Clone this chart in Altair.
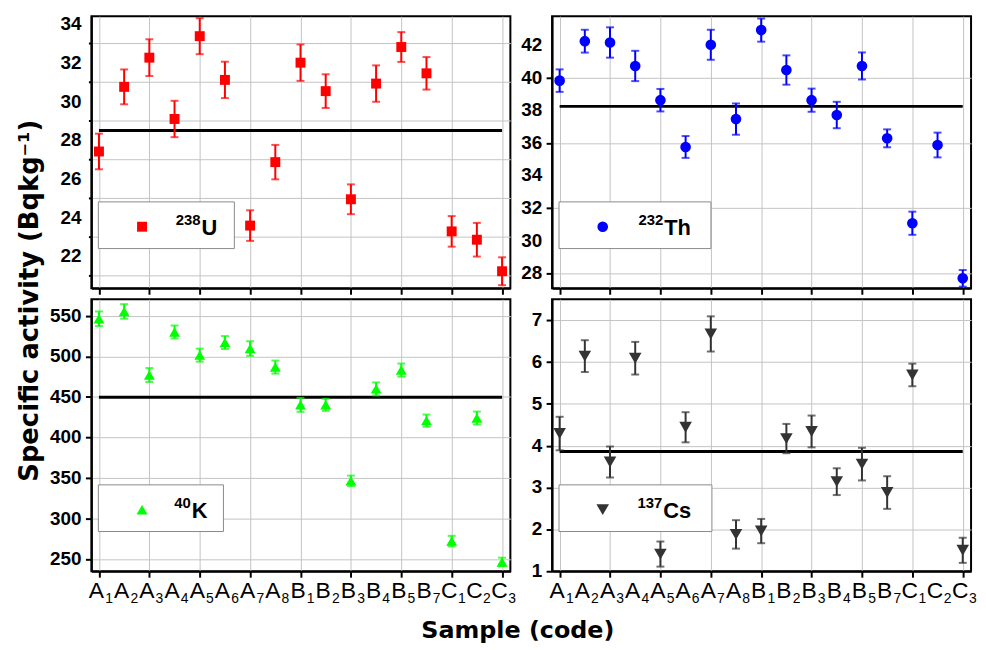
import altair as alt
import pandas as pd

# ---------------- data ----------------
samples = ["A1", "A2", "A3", "A4", "A5", "A6", "A7", "A8",
           "B1", "B2", "B3", "B4", "B5", "B7", "C1", "C2", "C3"]
sample_letter = ["A", "A", "A", "A", "A", "A", "A", "A",
                 "B", "B", "B", "B", "B", "B", "C", "C", "C"]
sample_sub = ["1", "2", "3", "4", "5", "6", "7", "8",
              "1", "2", "3", "4", "5", "7", "1", "2", "3"]

u238 = [27.42, 30.76, 32.27, 29.10, 33.38, 31.12, 23.59, 26.87, 32.01,
        30.54, 24.95, 30.93, 32.82, 31.46, 23.29, 22.86, 21.23]
u238_err = [0.92, 0.90, 0.95, 0.94, 0.93, 0.94, 0.79, 0.89, 0.94,
            0.87, 0.77, 0.94, 0.77, 0.84, 0.79, 0.87, 0.72]

th232 = [39.82, 42.24, 42.16, 40.72, 38.62, 35.75, 42.02, 37.46, 42.92,
         40.47, 38.62, 37.71, 40.72, 36.28, 31.07, 35.87, 27.69]
th232_err = [0.69, 0.70, 0.93, 0.93, 0.69, 0.67, 0.92, 0.96, 0.71,
             0.90, 0.71, 0.81, 0.83, 0.55, 0.71, 0.76, 0.51]

k40 = [546.3, 555.3, 477.0, 530.0, 501.5, 517.0, 509.6, 486.8, 440.3,
       440.3, 346.6, 459.9, 483.1, 420.8, 272.4, 424.0, 246.7]
k40_err = [9.0, 9.0, 8.6, 8.0, 8.0, 8.0, 9.0, 8.0, 8.6,
           7.4, 6.5, 8.0, 8.0, 7.5, 6.5, 8.0, 5.3]

cs137 = [4.29, 6.14, 3.61, 6.09, 1.41, 4.44, 6.67, 1.88, 1.96,
         4.17, 4.34, 3.14, 3.56, 2.88, 5.69, None, 1.50]
cs137_err = [0.40, 0.38, 0.37, 0.39, 0.30, 0.36, 0.42, 0.34, 0.29,
             0.35, 0.38, 0.32, 0.39, 0.39, 0.27, None, 0.30]

mean_values = [28.51, 38.24, 449.7, 3.86]
iso_mass = ["238", "232", "40", "137"]
iso_element = ["U", "Th", "K", "Cs"]

# y tick labels of each panel
u_tick_labels = [22, 24, 26, 28, 30, 32, 34]
th_tick_labels = [28, 30, 32, 34, 36, 38, 40, 42]
k_tick_labels = [250, 300, 350, 400, 450, 500, 550]
cs_tick_labels = [1, 2, 3, 4, 5, 6, 7]

FONT = "Liberation Sans"
TFONT = "DejaVu Sans"
W, H = 422, 274


def frange(a, b, s):
    out, v = [], a
    while v <= b + 1e-9:
        out.append(round(v, 4))
        v += s
    return out


def panel(values, errs, mean, mass, elem, color, shape, msize,
          ydom, yticks, ylabels, bottom, legend_w, sup_x, show_ytitle=False,
          show_xtitle=False):
    rows = []
    for i, (v, e) in enumerate(zip(values, errs)):
        if v is None:
            continue
        rows.append({"idx": i, "sample": samples[i], "value": v,
                     "lo": v - e, "hi": v + e})
    df = pd.DataFrame(rows)
    mdf = pd.DataFrame({"x0": [0], "x1": [len(samples) - 1], "mean": [mean]})
    ldf = pd.DataFrame({"sup": [mass], "el": [elem]})
    labdf = pd.DataFrame({"idx": list(range(len(samples))),
                          "letter": sample_letter, "sub": sample_sub})
    ylabdf = pd.DataFrame({"v": ylabels, "t": [str(t) for t in ylabels]})

    xvals = frange(0.0, len(samples) - 1, 0.5)
    xaxis_kw = dict(
        values=xvals,
        grid=True,
        gridOpacity={"condition": {"test": "datum.value % 1 !== 0", "value": 0}, "value": 1},
        tickSize={"condition": {"test": "datum.value % 1 !== 0", "value": 3}, "value": 6},
        domain=True,
        labels=False,
    )
    if show_xtitle:
        xaxis_kw.update(title="Sample (code)", titleX=429, titleY=67,
                        titleAlign="center", titleBaseline="alphabetic",
                        titleFont=TFONT, titleFontWeight="bold", titleFontSize=24)
    else:
        xaxis_kw.update(title=None)

    major_test = "indexof(" + str(list(ylabels)) + ", datum.value) < 0"
    yaxis_kw = dict(
        values=yticks,
        grid=True,
        labels=False,
        tickSize={"condition": {"test": major_test, "value": 3}, "value": 6},
    )
    if show_ytitle:
        yaxis_kw.update(title="Specific activity (Bqkg⁻¹)", titleX=-62, titleY=286,
                        titleAlign="center", titleBaseline="middle", titleAngle=270,
                        titleFont=TFONT, titleFontWeight="bold", titleFontSize=26)
    else:
        yaxis_kw.update(title=None)

    xs = alt.Scale(domain=[-0.3, len(samples) - 1 + 0.33], nice=False, zero=False)
    ys = alt.Scale(domain=list(ydom), nice=False, zero=False)

    mean_line = alt.Chart(mdf).mark_rule(color="black", strokeWidth=3).encode(
        x=alt.X("x0:Q", scale=xs, axis=alt.Axis(**xaxis_kw)),
        x2="x1:Q",
        y=alt.Y("mean:Q", scale=ys, axis=alt.Axis(**yaxis_kw)),
    )
    bars = alt.Chart(df).mark_rule(color=color, strokeWidth=2).encode(
        x="idx:Q", y="lo:Q", y2="hi:Q")
    cap_lo = alt.Chart(df).mark_tick(color=color, orient="horizontal", size=8,
                                     thickness=2).encode(x="idx:Q", y="lo:Q")
    cap_hi = alt.Chart(df).mark_tick(color=color, orient="horizontal", size=8,
                                     thickness=2).encode(x="idx:Q", y="hi:Q")
    pts = alt.Chart(df).mark_point(shape=shape, filled=True, opacity=1,
                                   color=color, size=msize).encode(
        x="idx:Q", y="value:Q")

    box = alt.Chart(ldf).mark_rect(fill="white", stroke="#8a8a8a", strokeWidth=1).encode(
        x=alt.value(7), x2=alt.value(legend_w), y=alt.value(187), y2=alt.value(234))
    sym = alt.Chart(ldf).mark_point(shape=shape, filled=True, opacity=1,
                                    color=color, size=msize).encode(
        x=alt.value(51), y=alt.value(212))
    sup = alt.Chart(ldf).mark_text(align="right", baseline="alphabetic", font=FONT,
                                   fontSize=15, fontWeight="bold", color="black").encode(
        x=alt.value(sup_x), y=alt.value(210), text="sup:N")
    el = alt.Chart(ldf).mark_text(align="left", baseline="alphabetic", font=FONT,
                                  fontSize=22, fontWeight="bold", color="black").encode(
        x=alt.value(sup_x + 1), y=alt.value(220), text="el:N")

    ylab = alt.Chart(ylabdf).mark_text(align="right", baseline="middle", font=FONT,
                                       fontSize=19, fontWeight="bold", color="black").encode(
        x=alt.value(-10), y="v:Q", text="t:N")

    layers = [mean_line, bars, cap_lo, cap_hi, pts, box, sym, sup, el, ylab]
    if bottom:
        let = alt.Chart(labdf).mark_text(align="center", baseline="alphabetic", font=FONT,
                                         fontSize=23, color="black", dx=-2.5).encode(
            x="idx:Q", y=alt.value(H + 27), text="letter:N")
        sb = alt.Chart(labdf).mark_text(align="left", baseline="alphabetic", font=FONT,
                                        fontSize=14, color="black", dx=6.3).encode(
            x="idx:Q", y=alt.value(H + 32), text="sub:N")
        layers += [let, sb]

    return alt.layer(*layers).properties(width=W, height=H)


p_u = panel(u238, u238_err, mean_values[0], iso_mass[0], iso_element[0], "#ff0000",
            "square", 100, (20.35, 34.41), frange(21, 34, 1), u_tick_labels, False, 144, 110,
            show_ytitle=True)
p_th = panel(th232, th232_err, mean_values[1], iso_mass[1], iso_element[1], "#0000ff",
             "circle", 115, (27.08, 43.77), frange(28, 43, 1), th_tick_labels, False, 160, 112)
p_k = panel(k40, k40_err, mean_values[2], iso_mass[2], iso_element[2], "#00ff00",
            "triangle-up", 120, (235.3, 570.4), frange(250, 550, 25), k_tick_labels, True,
            133, 100, show_xtitle=True)
p_cs = panel(cs137, cs137_err, mean_values[3], iso_mass[3], iso_element[3], "#333333",
             "triangle-down", 160, (1.0, 7.5), frange(1, 7.5, 0.5), cs_tick_labels, True,
             161, 111)

chart = alt.concat(p_u, p_th, p_k, p_cs, columns=2,
                   spacing={"row": 11, "column": 42}, bounds="flush").configure_view(
    stroke="black", strokeWidth=2
).configure_axis(
    domainColor="black", domainWidth=2, tickColor="black", tickWidth=2,
    gridColor="#c4c4c4", gridWidth=1, labelColor="black", titleColor="black",
).properties(
    background="white",
    padding={"left": 8, "top": 3, "right": 0, "bottom": 0},
)

chart.save("out.html", embed_options={"renderer": "svg", "actions": False})
